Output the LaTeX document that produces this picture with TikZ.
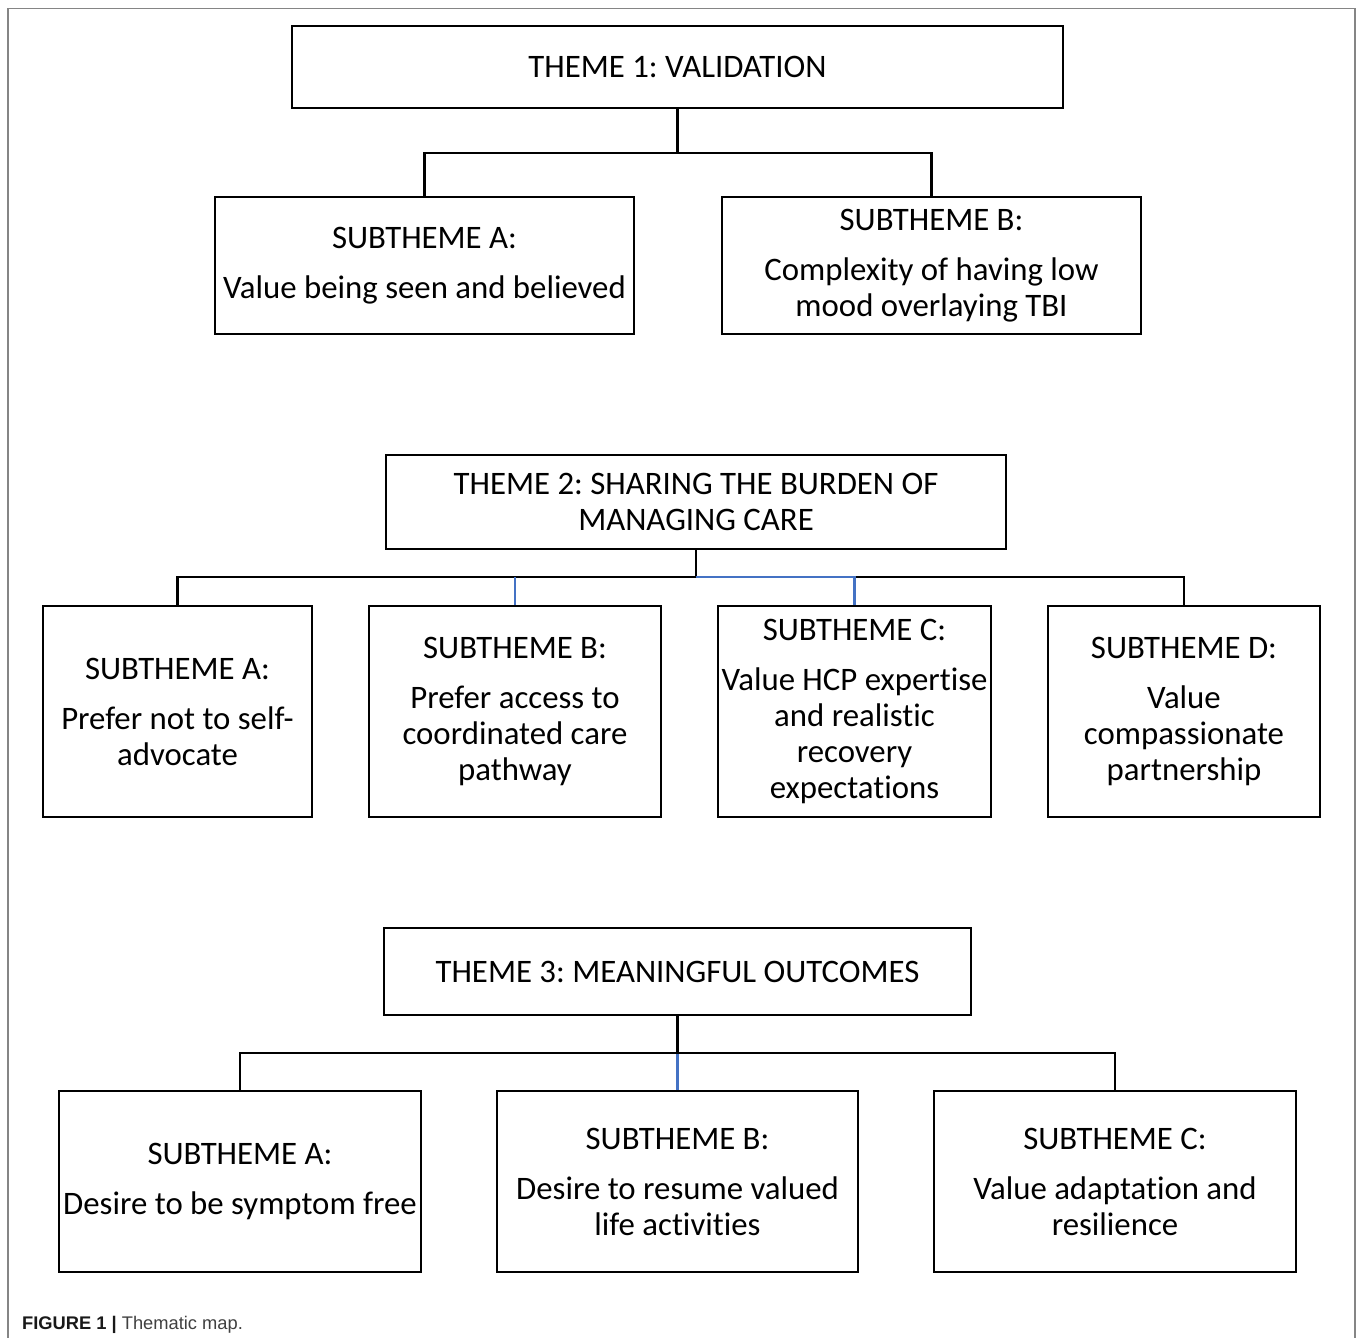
\documentclass[tikz,border=0pt]{standalone}
\usepackage{fontspec}
\setmainfont[Ligatures=NoCommon]{Carlito}
\newfontfamily\capfont{Liberation Sans}
\definecolor{linkblue}{HTML}{4472C4}
\definecolor{framegray}{HTML}{858585}
\frenchspacing

\begin{document}
\begin{tikzpicture}[x=1pt, y=-1pt, font=\fontsize{32.8}{36}\selectfont]
    \tikzset{
        theme/.style={
            draw=black,
            line width=2.6pt,
            inner sep=0pt,
            align=center
        },
        subtheme/.style={
            draw=black,
            line width=2.6pt,
            inner sep=0pt,
            align=center
        },
        link/.style={line width=2.6pt, draw=black},
        bluelink/.style={line width=2.6pt, draw=linkblue}
    }
    \useasboundingbox (0,0) rectangle (1358,1338);
    \draw[framegray, line width=1.6pt] (8,1338) -- (8,8.5) -- (1355,8.5) -- (1355,1338);

    % theme 1
    \node[theme, minimum width=771, minimum height=82] (t1) at (677.5,67) {THEME 1: VALIDATION};
    \node[subtheme, minimum width=419, minimum height=137] (t1a) at (424.5,265.5)
        {SUBTHEME A:\\[14pt]Value being seen and believed};
    \node[subtheme, minimum width=419, minimum height=137] (t1b) at (931.5,265.5)
        {SUBTHEME B:\\[14pt]Complexity of having low\\mood overlaying TBI};
    \coordinate (j1) at (677.5,153);
    \draw[link] (t1.south) -- (j1);
    \draw[link] (t1a.north) |- (j1) -| (t1b.north);

    % theme 2
    \node[theme, minimum width=620, minimum height=94] (t2) at (696,502) {THEME 2: SHARING THE BURDEN OF\\MANAGING CARE};
    \node[subtheme, minimum width=269, minimum height=211] (t2a) at (177.5,711.5)
        {SUBTHEME A:\\[14pt]Prefer not to self-\\advocate};
    \node[subtheme, minimum width=292, minimum height=211] (t2b) at (515,711.5)
        {SUBTHEME B:\\[14pt]Prefer access to\\coordinated care\\pathway};
    \node[subtheme, minimum width=273, minimum height=211] (t2c) at (854.5,711.5)
        {SUBTHEME C:\\[14pt]Value HCP expertise\\and realistic\\recovery\\expectations};
    \node[subtheme, minimum width=272, minimum height=211] (t2d) at (1184,711.5)
        {SUBTHEME D:\\[14pt]Value\\compassionate\\partnership};
    \coordinate (j2) at (696,577);
    \draw[link] (t2.south) -- (j2);
    \draw[link] (t2a.north) |- (j2) -| (t2d.north);
    \draw[bluelink] (t2b.north) -- (t2b.north |- j2);
    \draw[bluelink] (j2) -| (t2c.north);

    % theme 3
    \node[theme, minimum width=587, minimum height=87] (t3) at (677.5,971.5) {THEME 3: MEANINGFUL OUTCOMES};
    \node[subtheme, minimum width=362, minimum height=181] (t3a) at (240,1181.5)
        {SUBTHEME A:\\[14pt]Desire to be symptom free};
    \node[subtheme, minimum width=361, minimum height=181] (t3b) at (677.5,1181.5)
        {SUBTHEME B:\\[14pt]Desire to resume valued\\life activities};
    \node[subtheme, minimum width=362, minimum height=181] (t3c) at (1115,1181.5)
        {SUBTHEME C:\\[14pt]Value adaptation and\\resilience};
    \coordinate (j3) at (677.5,1053);
    \draw[bluelink] (j3) -- (t3b.north);
    \draw[link] (t3.south) -- (j3);
    \draw[link] (t3a.north) |- (j3) -| (t3c.north);

    % caption
    \node[anchor=base west, inner sep=0pt, text=black!75,
          font=\capfont\fontsize{18.3}{22}\selectfont] (caption) at (22,1329)
        {\textbf{\color{black!90}FIGURE 1 |} Thematic map.};
\end{tikzpicture}
\end{document}
